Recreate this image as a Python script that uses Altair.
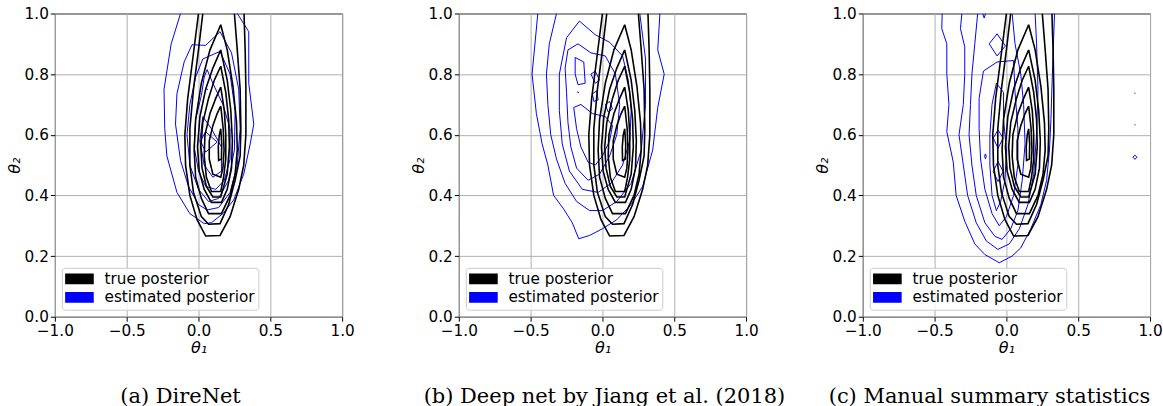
import altair as alt
import pandas as pd

SERIES_TRUE = "true posterior"
SERIES_EST = "estimated posterior"

X_TICKS = [-1.0, -0.5, 0.0, 0.5, 1.0]
Y_TICKS = [0.0, 0.2, 0.4, 0.6, 0.8, 1.0]

CAPTIONS = ["(a) DireNet", "(b) Deep net by Jiang et al. (2018)", "(c) Manual summary statistics"]
CAPTION_SHIFT = [-18, 2, -17]

# ---- true posterior contour lines (theta1, theta2) ----
true_l1 = [(0.0, 1.0), (-0.04, 0.85), (-0.075, 0.72), (-0.095, 0.6), (-0.09, 0.5), (-0.06, 0.4),
           (-0.01, 0.32), (0.05, 0.266), (0.15, 0.268), (0.22, 0.33), (0.28, 0.42), (0.315, 0.5),
           (0.33, 0.6), (0.33, 0.75), (0.325, 0.88), (0.317, 1.0)]
true_l2 = [(0.03, 1.0), (0.0, 0.88), (-0.035, 0.75), (-0.06, 0.62), (-0.06, 0.5), (-0.035, 0.41),
           (0.02, 0.33), (0.07, 0.305), (0.15, 0.307), (0.21, 0.37), (0.255, 0.45), (0.29, 0.53),
           (0.295, 0.62), (0.29, 0.75), (0.27, 0.88), (0.25, 1.0)]
true_l3 = [(0.155, 0.963), (0.2, 0.88), (0.24, 0.76), (0.265, 0.64), (0.27, 0.55), (0.255, 0.47),
           (0.22, 0.4), (0.16, 0.34), (0.07, 0.34), (0.02, 0.39), (-0.02, 0.46), (-0.03, 0.55),
           (-0.02, 0.65), (0.02, 0.77), (0.08, 0.88)]
true_l4 = [(0.155, 0.88), (0.2, 0.78), (0.225, 0.68), (0.236, 0.58), (0.23, 0.49), (0.2, 0.42),
           (0.16, 0.377), (0.09, 0.377), (0.04, 0.42), (0.005, 0.48), (-0.007, 0.56), (0.01, 0.66),
           (0.05, 0.75), (0.1, 0.82)]
true_l5 = [(0.155, 0.826), (0.19, 0.74), (0.21, 0.65), (0.215, 0.56), (0.2, 0.47), (0.17, 0.42),
           (0.155, 0.395), (0.1, 0.395), (0.055, 0.43), (0.025, 0.49), (0.016, 0.56), (0.03, 0.64),
           (0.07, 0.72), (0.11, 0.78)]
true_l6 = [(0.155, 0.757), (0.18, 0.68), (0.19, 0.6), (0.19, 0.52), (0.175, 0.46), (0.155, 0.413),
           (0.09, 0.413), (0.055, 0.46), (0.04, 0.53), (0.045, 0.6), (0.08, 0.67), (0.12, 0.72)]
true_l7 = [(0.155, 0.695), (0.172, 0.62), (0.178, 0.55), (0.17, 0.49), (0.155, 0.46), (0.1, 0.47),
           (0.075, 0.52), (0.075, 0.58), (0.1, 0.63), (0.13, 0.67)]
true_l8 = [(0.155, 0.62), (0.162, 0.57), (0.16, 0.52), (0.14, 0.515), (0.138, 0.56), (0.145, 0.6)]
TRUE_OPEN = [true_l1, true_l2]
TRUE_CLOSED = [true_l3, true_l4, true_l5, true_l6, true_l7, true_l8]

# ---- (a) DireNet estimated posterior ----
a_e1 = [(-0.125, 1.0), (-0.19, 0.9), (-0.24, 0.75), (-0.235, 0.62), (-0.22, 0.53), (-0.15, 0.41),
        (-0.06, 0.34), (0.04, 0.307), (0.09, 0.31), (0.17, 0.34), (0.245, 0.385), (0.315, 0.47),
        (0.36, 0.57), (0.385, 0.635), (0.35, 0.77), (0.35, 0.94), (0.27, 1.0)]
a_e2 = [(-0.045, 0.897), (0.05, 0.895), (0.15, 0.94), (0.23, 0.87), (0.28, 0.75), (0.29, 0.62),
        (0.27, 0.5), (0.22, 0.41), (0.14, 0.36), (0.06, 0.352), (0.0, 0.37), (-0.07, 0.43),
        (-0.125, 0.515), (-0.16, 0.635), (-0.15, 0.735), (-0.1, 0.84)]
a_e3 = [(0.03, 0.85), (0.15, 0.875), (0.22, 0.8), (0.255, 0.68), (0.25, 0.55), (0.21, 0.45),
        (0.14, 0.39), (0.07, 0.38), (0.0, 0.42), (-0.06, 0.5), (-0.08, 0.6), (-0.06, 0.7), (-0.02, 0.79)]
a_e4 = [(0.04, 0.79), (0.06, 0.815), (0.1, 0.77), (0.17, 0.7), (0.22, 0.62), (0.22, 0.52),
        (0.18, 0.45), (0.12, 0.42), (0.05, 0.43), (0.0, 0.48), (-0.03, 0.56), (-0.02, 0.65), (0.02, 0.73)]
a_e5 = [(0.03, 0.66), (0.09, 0.62), (0.16, 0.56), (0.16, 0.48), (0.1, 0.46), (0.04, 0.5), (0.01, 0.58)]
a_e6 = [(0.05, 0.61), (0.13, 0.576), (0.05, 0.543), (0.014, 0.58)]
a_e7 = [(0.058, 0.752), (0.062, 0.748)]
A_OPEN = [a_e1]
A_CLOSED = [a_e2, a_e3, a_e4, a_e5, a_e6, a_e7]

# ---- (b) Jiang et al. estimated posterior ----
b_e1 = [(-0.45, 1.0), (-0.49, 0.8), (-0.46, 0.67), (-0.42, 0.57), (-0.38, 0.5), (-0.34, 0.4),
        (-0.27, 0.355), (-0.21, 0.31), (-0.165, 0.257), (-0.09, 0.268), (0.0, 0.29), (0.1, 0.32),
        (0.2, 0.37), (0.28, 0.43), (0.35, 0.55), (0.385, 0.69), (0.43, 0.8), (0.385, 0.88), (0.4, 1.0)]
b_e2 = [(-0.32, 1.0), (-0.37, 0.9), (-0.39, 0.8), (-0.38, 0.7), (-0.36, 0.6), (-0.32, 0.52),
        (-0.26, 0.44), (-0.18, 0.38), (-0.09, 0.35), (0.0, 0.35), (0.1, 0.38), (0.2, 0.44),
        (0.27, 0.55), (0.3, 0.7), (0.3, 0.85), (0.26, 1.0)]
b_e3 = [(-0.16, 0.975), (-0.05, 0.93), (0.05, 0.905), (0.14, 0.86), (0.18, 0.78), (0.2, 0.68),
        (0.19, 0.58), (0.14, 0.5), (0.06, 0.44), (-0.03, 0.41), (-0.14, 0.42), (-0.23, 0.48),
        (-0.28, 0.57), (-0.3, 0.68), (-0.3, 0.8), (-0.25, 0.92)]
b_e4 = [(-0.24, 0.88), (-0.17, 0.9), (-0.08, 0.87), (0.02, 0.86), (0.09, 0.8), (0.12, 0.7),
        (0.1, 0.6), (0.05, 0.53), (-0.02, 0.47), (-0.1, 0.45), (-0.18, 0.49), (-0.22, 0.56),
        (-0.24, 0.64), (-0.25, 0.74), (-0.26, 0.82)]
b_e5 = [(-0.2, 0.69), (-0.15, 0.7), (-0.07, 0.67), (0.02, 0.66), (0.07, 0.63), (0.05, 0.58),
        (0.0, 0.53), (-0.05, 0.5), (-0.1, 0.51), (-0.15, 0.56), (-0.18, 0.62)]
b_e6 = [(-0.19, 0.855), (-0.13, 0.84), (-0.12, 0.77), (-0.17, 0.765), (-0.19, 0.8)]
b_e7 = [(-0.08, 0.8), (-0.05, 0.81), (-0.02, 0.78), (-0.05, 0.77)]
b_e8 = [(-0.07, 0.735), (-0.04, 0.745), (-0.03, 0.715), (-0.06, 0.71)]
b_e9 = [(0.02, 0.7), (0.05, 0.71), (0.07, 0.685), (0.04, 0.675)]
b_e10 = [(-0.172, 0.742), (-0.166, 0.738)]
B_OPEN = [b_e1, b_e2]
B_CLOSED = [b_e3, b_e4, b_e5, b_e6, b_e7, b_e8, b_e9, b_e10]

# ---- (c) manual summary statistics estimated posterior ----
c_e1 = [(-0.447, 1.0), (-0.45, 0.95), (-0.415, 0.9), (-0.415, 0.8), (-0.4, 0.7), (-0.415, 0.61),
        (-0.37, 0.51), (-0.35, 0.4), (-0.29, 0.315), (-0.22, 0.24), (-0.15, 0.205), (-0.05, 0.178),
        (0.04, 0.2), (0.1, 0.227), (0.17, 0.29), (0.24, 0.37), (0.28, 0.45), (0.3, 0.55),
        (0.31, 0.65), (0.32, 0.8), (0.335, 1.0)]
c_e2 = [(-0.31, 1.0), (-0.32, 0.95), (-0.29, 0.89), (-0.29, 0.8), (-0.3, 0.7), (-0.33, 0.6),
        (-0.3, 0.5), (-0.27, 0.4), (-0.21, 0.31), (-0.14, 0.25), (-0.06, 0.222), (0.02, 0.24),
        (0.09, 0.29), (0.15, 0.37), (0.19, 0.47), (0.21, 0.6), (0.22, 0.75), (0.21, 0.9), (0.2, 1.0)]
c_e3 = [(-0.2, 1.0), (-0.22, 0.9), (-0.24, 0.8), (-0.25, 0.7), (-0.26, 0.6), (-0.24, 0.5),
        (-0.21, 0.4), (-0.15, 0.31), (-0.08, 0.265), (-0.03, 0.255), (0.03, 0.29), (0.08, 0.35),
        (0.11, 0.45), (0.13, 0.57), (0.12, 0.7), (0.1, 0.8), (0.06, 0.9), (0.04, 1.0)]
c_e4 = [(-0.16, 0.81), (-0.065, 0.84), (0.05, 0.845), (0.06, 0.74), (0.08, 0.62), (0.08, 0.5),
        (0.05, 0.4), (0.0, 0.33), (-0.05, 0.3), (-0.1, 0.34), (-0.15, 0.42), (-0.18, 0.52),
        (-0.19, 0.62), (-0.19, 0.72)]
c_e5 = [(-0.07, 0.77), (-0.02, 0.74), (-0.02, 0.65), (0.0, 0.55), (-0.01, 0.45), (-0.04, 0.38),
        (-0.07, 0.35), (-0.1, 0.4), (-0.115, 0.5), (-0.115, 0.6), (-0.1, 0.7)]
c_e6 = [(-0.12, 0.9), (-0.065, 0.933), (-0.007, 0.893), (-0.065, 0.86)]
c_e7 = [(-0.092, 0.589), (-0.058, 0.616), (-0.023, 0.589), (-0.058, 0.556)]
c_e8 = [(-0.092, 0.479), (-0.058, 0.512), (-0.023, 0.479), (-0.058, 0.446)]
c_e9 = [(-0.152, 0.529), (-0.146, 0.537), (-0.14, 0.529), (-0.146, 0.521)]
c_e10 = [(0.881, 0.526), (0.895, 0.533), (0.909, 0.526), (0.895, 0.519)]
c_e11 = [(0.893, 0.737), (0.897, 0.737)]
c_e12 = [(0.893, 0.633), (0.897, 0.633)]
c_e13 = [(-0.165, 1.0), (-0.155, 0.985), (-0.145, 1.0)]
C_OPEN = [c_e1, c_e2, c_e3, c_e13]
C_CLOSED = [c_e4, c_e5, c_e6, c_e7, c_e8, c_e9, c_e10, c_e11, c_e12]

FS = 15.3

# legend swatch: a bundle of overlapping horizontal strokes that reads as a filled bar
SWATCH_PATH = "".join(f"M-4,{(-1.3 + 0.26 * k):.2f}H4" for k in range(11))


def contour_rows(open_lines, closed_lines, series, prefix):
    out = []
    lines = [list(c) for c in open_lines] + [list(c) + [c[0]] for c in closed_lines]
    for k, pts in enumerate(lines):
        for i, (t1, t2) in enumerate(pts):
            out.append({"cid": f"{prefix}{k}", "idx": i, "t1": t1, "t2": t2, "series": series})
    return pd.DataFrame(out)


def panel(est_open, est_closed, caption, shift):
    df_true = contour_rows(TRUE_OPEN, TRUE_CLOSED, SERIES_TRUE, "t")
    df_est = contour_rows(est_open, est_closed, SERIES_EST, "e")
    legend = alt.Legend(
        title=None, orient="bottom-left", offset=7,
        fillColor="rgba(255,255,255,0.8)", strokeColor="#cccccc", cornerRadius=3, padding=3.5,
        symbolType=SWATCH_PATH, symbolSize=51.5, symbolStrokeWidth=1.5, symbolOffset=6.5,
        labelFont="DejaVu Sans", labelFontSize=FS, labelColor="black", labelOffset=17.5,
        rowPadding=1.5,
    )
    color = alt.Color("series:N",
                      scale=alt.Scale(domain=[SERIES_TRUE, SERIES_EST], range=["#000000", "#0000ff"]),
                      legend=legend)
    x = alt.X("t1:Q", scale=alt.Scale(domain=[-1, 1], nice=False, zero=False),
              axis=alt.Axis(values=X_TICKS, format=".1f", title="θ₁", titlePadding=1))
    y = alt.Y("t2:Q", scale=alt.Scale(domain=[0, 1], nice=False, zero=False),
              axis=alt.Axis(values=Y_TICKS, format=".1f", title="θ₂"))
    est = alt.Chart(df_est).mark_line(clip=True, strokeWidth=1.0).encode(
        x=x, y=y, color=color, detail="cid:N", order="idx:Q")
    tru = alt.Chart(df_true).mark_line(clip=True, strokeWidth=1.6).encode(
        x=x, y=y, color=color, detail="cid:N", order="idx:Q")
    return alt.layer(est, tru).properties(
        width=288, height=304,
        title=alt.TitleParams(text=caption, orient="bottom", anchor="middle", frame="group",
                              offset=31, dx=shift),
    )


pa = panel(A_OPEN, A_CLOSED, CAPTIONS[0], CAPTION_SHIFT[0])
pb = panel(B_OPEN, B_CLOSED, CAPTIONS[1], CAPTION_SHIFT[1])
pc = panel(C_OPEN, C_CLOSED, CAPTIONS[2], CAPTION_SHIFT[2])

chart = alt.hconcat(pa, pb, pc, spacing=117, bounds="flush").resolve_scale(
    color="independent").resolve_legend(color="independent").properties(
    padding={"left": 5, "top": 5, "right": 0, "bottom": 0}
).configure_view(stroke="black", strokeWidth=1).configure_axis(
    labelFont="DejaVu Sans", labelFontSize=FS, labelColor="black",
    tickColor="black", tickSize=4.5, tickWidth=1, domain=False,
    grid=True, gridColor="#b0b0b0", gridWidth=1,
    titleFont="DejaVu Sans", titleFontSize=16, titleFontWeight="normal", titleFontStyle="italic",
    titleColor="black", labelFlush=False, labelOverlap=False, labelPadding=2, titlePadding=2,
).configure_title(font="DejaVu Serif", fontSize=21, fontWeight="normal", color="black")

chart.save("out.html", embed_options={"renderer": "svg", "actions": False})
